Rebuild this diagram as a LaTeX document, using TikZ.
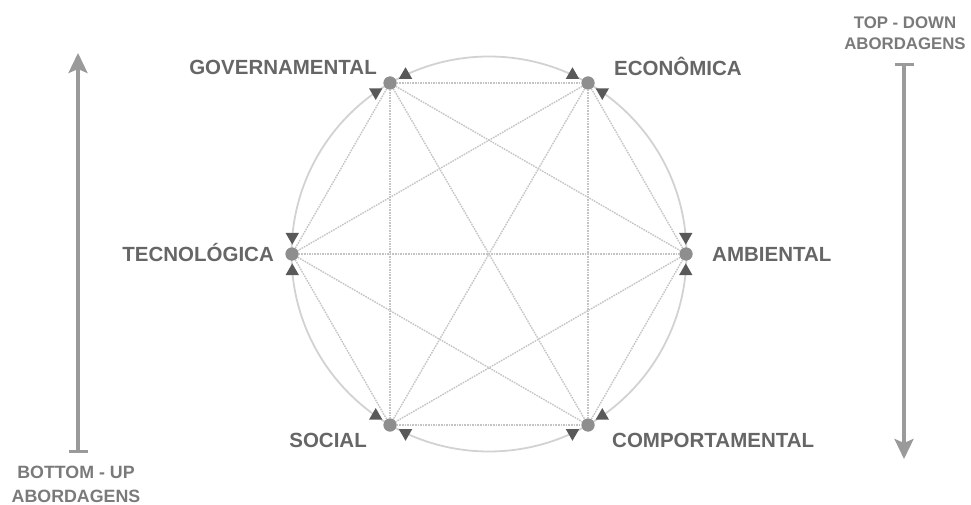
\documentclass[tikz,border=0pt]{standalone}
\usepackage{fontspec}
\setmainfont{Liberation Sans}
\usetikzlibrary{arrows.meta,shapes.geometric,calc}
\definecolor{lbl}{HTML}{666666}
\definecolor{side}{HTML}{7A7A7A}
\definecolor{ring}{HTML}{D2D2D2}
\definecolor{chord}{HTML}{C4C4C4}
\definecolor{dotc}{HTML}{8E8E8E}
\definecolor{tri}{HTML}{595959}
\definecolor{bigar}{HTML}{9A9A9A}
\tikzset{
  hub/.style={circle,fill=dotc,inner sep=0pt,minimum size=13pt},
  lab/.style={font=\fontsize{20.5}{23}\selectfont\bfseries,text=lbl,inner sep=0pt,text height=14.5pt,text depth=0pt},
  sidelab/.style={text=side,align=center,inner sep=0pt},
  chordline/.style={draw=chord,line width=1.4pt,dash pattern=on 1.6pt off 1pt},
  up/.style={regular polygon,regular polygon sides=3,fill=tri,inner sep=0pt,minimum size=15.5pt},
  dn/.style={up,shape border rotate=180},
  bigarrow/.style={draw=bigar,line width=3.6pt,{Bar[width=19pt,line width=3pt]}-{Stealth[length=20pt,width=19pt,inset=4pt]}}
}
\begin{document}
\begin{tikzpicture}[x=1pt,y=-1pt]
\useasboundingbox (0,0) rectangle (971,505);
\coordinate (O) at (489,254);
\draw[ring,line width=1.8pt] (O) circle[radius=197.5pt];
% hubs
\node[hub] (gov) at (390,83) {};
\node[hub] (eco) at (588,83) {};
\node[hub] (tec) at (292,254) {};
\node[hub] (amb) at (686,254) {};
\node[hub] (soc) at (390,425) {};
\node[hub] (com) at (588,425) {};
% chords
\foreach \a/\b in {gov/eco,gov/tec,gov/amb,gov/soc,gov/com,eco/tec,eco/amb,eco/soc,eco/com,tec/amb,tec/soc,tec/com,amb/soc,amb/com,soc/com}
  \draw[chordline] (\a) -- (\b);
% redraw hubs on top
\foreach \h/\p in {gov/{(390,83)},eco/{(588,83)},tec/{(292,254)},amb/{(686,254)},soc/{(390,425)},com/{(588,425)}}
  \fill[dotc] \p circle[radius=6.5pt];
% triangles
\node[up] (t1) at ($(O)+(-115:197.5)$) {};
\node[dn] (t2) at ($(O)+(-125:197.5)$) {};
\node[up] (t3) at ($(O)+(-65:197.5)$) {};
\node[dn] (t4) at ($(O)+(-55:197.5)$) {};
\node[dn] (t5) at ($(O)+(-175:197.5)$) {};
\node[up] (t6) at ($(O)+(175:197.5)$) {};
\node[dn] (t7) at ($(O)+(-5:197.5)$) {};
\node[up] (t8) at ($(O)+(5:197.5)$) {};
\node[up] (t9) at ($(O)+(125:197.5)$) {};
\node[dn] (t10) at ($(O)+(115:197.5)$) {};
\node[dn] (t11) at ($(O)+(65:197.5)$) {};
\node[up] (t12) at ($(O)+(55:197.5)$) {};
% labels
\node[lab,anchor=east] (lgov) at (377,67) {GOVERNAMENTAL};
\node[lab,anchor=west] (leco) at (614,68) {ECONÔMICA};
\node[lab,anchor=east] (ltec) at (274,254) {TECNOLÓGICA};
\node[lab,anchor=west] (lamb) at (712,254) {AMBIENTAL};
\node[lab,anchor=east] (lsoc) at (367,440) {SOCIAL};
\node[lab,anchor=west] (lcom) at (612,440) {COMPORTAMENTAL};
% side arrows
\coordinate (lb) at (78,453);
\coordinate (lt) at (78,53);
\draw[bigarrow] (lb) -- (lt);
\coordinate (rt) at (904,63);
\coordinate (rb) at (904,459);
\draw[bigarrow] (rt) -- (rb);
\node[sidelab,font=\fontsize{16.8}{21}\selectfont\bfseries] (ltd) at (905,33) {TOP - DOWN\\ABORDAGENS};
\node[sidelab,font=\fontsize{17.8}{24}\selectfont\bfseries] (lbu) at (76,484) {BOTTOM - UP\\ABORDAGENS};
\end{tikzpicture}
\end{document}
